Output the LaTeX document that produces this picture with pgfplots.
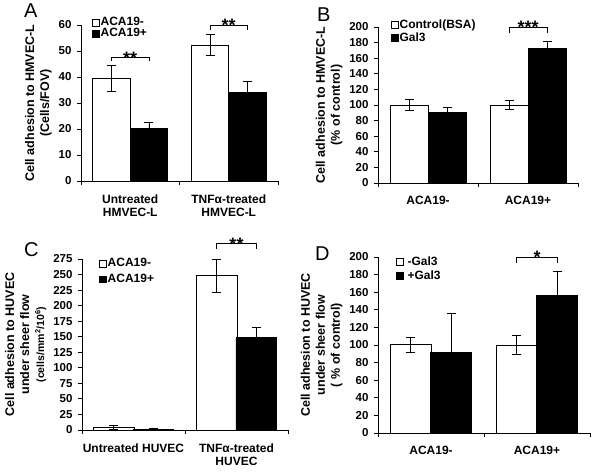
\documentclass[border=0pt]{standalone}
\usepackage{fontspec}
\setmainfont{Liberation Sans}
\usepackage{pgfplots}
\pgfplotsset{compat=1.18}
\tikzset{
  sigline/.style={line width=0.9pt, black},
  stars/.style={font=\bfseries\fontsize{18}{18}\selectfont, anchor=base, yshift=-7pt, inner sep=0pt},
  plabel/.style={anchor=north west, inner sep=0pt, font=\fontsize{20}{20}\selectfont},
}
\pgfplotsset{
  panel/.style={
    scale only axis, clip=false,
    axis x line=bottom, axis y line=left,
    axis line style={-, line width=0.9pt, black},
    every tick/.style={black, line width=0.9pt},
    tick align=outside, major tick length=4pt,
    xmin=0, xmax=2, xtick={0,1,2}, xticklabels={},
    ymin=0,
    ybar, bar width=0.38,
    /pgf/number format/assume math mode=true,
    tick label style={font=\bfseries\fontsize{11.5}{13}\selectfont},
    yticklabel style={xshift=-2pt},
    extra x ticks={0.5,1.5},
    extra x tick style={major tick length=0pt, tick label style={align=center, font=\bfseries\fontsize{12}{13.5}\selectfont, yshift=-10pt}},
    ylabel style={align=center, font=\bfseries\fontsize{12.5}{15}\selectfont},
    legend style={draw=none, fill=none, inner sep=0pt, anchor=north west,
      font=\bfseries\fontsize{12}{13}\selectfont, legend cell align=left,
      nodes={inner sep=1pt}},
    legend image code/.code={\draw[#1, line width=0.6pt] (0pt,-3.4pt) rectangle (6.8pt,3.4pt);},
  },
  wbar/.style={fill=white, draw=black, line width=0.9pt, bar shift=-0.19},
  bbar/.style={fill=black, draw=black, line width=0.9pt, bar shift=0.19},
  eb/.style={error bars/.cd, y dir=#1, y explicit,
    error bar style={line width=0.9pt, black},
    error mark options={rotate=90, mark size=4.5pt, line width=0.9pt, black}},
}
\begin{document}
\begin{tikzpicture}
\path[use as bounding box] (0pt,0pt) rectangle (601pt,473pt);
% ---------------- A ----------------
\begin{axis}[panel, at={(81pt,292pt)}, anchor=south west, width=197pt, height=156pt,
  ymax=60, ytick={0,10,...,60},
  ylabel={Cell adhesion to HMVEC-L\\(Cells/FOV)},
  extra x tick labels={{Untreated\\HMVEC-L},{TNFα-treated\\HMVEC-L}},
  legend style={at={(axis description cs:0.056,1.055)}, row sep=-1pt}]
\addplot[wbar, eb=both] coordinates {(0.5,39.5) +- (0,5) (1.5,52.3) +- (0,4)};
\addplot[bbar, eb=plus] coordinates {(0.5,20.2) +- (0,2.4) (1.5,34.2) +- (0,4)};
\legend{ACA19-,ACA19+}
\draw[sigline] (axis cs:0.31,46.3) -- (axis cs:0.31,47.6) -- (axis cs:0.69,47.6) -- (axis cs:0.69,46.3);
\node[stars] at (axis cs:0.5,47.6) {**};
\draw[sigline] (axis cs:1.31,58) -- (axis cs:1.31,60) -- (axis cs:1.69,60) -- (axis cs:1.69,58);
\node[stars] at (axis cs:1.5,60) {**};
\end{axis}
% ---------------- B ----------------
\begin{axis}[panel, at={(378pt,290pt)}, anchor=south west, width=200pt, height=156pt,
  ymax=200, ytick={0,20,...,200},
  ylabel={Cell adhesion to HMVEC-L\\(\% of control)},
  extra x tick labels={ACA19-,ACA19+},
  legend style={at={(axis description cs:0.065,1.055)}, row sep=1pt}]
\addplot[wbar, eb=both] coordinates {(0.5,100) +- (0,6.5) (1.5,100) +- (0,6)};
\addplot[bbar, eb=plus] coordinates {(0.5,90.6) +- (0,6) (1.5,173) +- (0,8)};
\legend{Control(BSA),Gal3}
\draw[sigline] (axis cs:1.31,192) -- (axis cs:1.31,200) -- (axis cs:1.69,200) -- (axis cs:1.69,192);
\node[stars] at (axis cs:1.5,200) {***};
\end{axis}
% ---------------- C ----------------
\begin{axis}[panel, at={(82pt,43pt)}, anchor=south west, width=206pt, height=171pt,
  ymax=275, ytick={0,25,...,275}, bar width=0.39,
  ylabel={Cell adhesion to HUVEC\\under sheer flow\\{\fontsize{10.5}{12}\selectfont(cells/mm\textsuperscript{2}/10\textsuperscript{6})}},
  extra x tick labels={{Untreated HUVEC},{TNFα-treated\\HUVEC}},
  legend style={at={(axis description cs:0.083,1.01)}, row sep=4pt}]
\addplot[wbar, eb=both] coordinates {(0.5,4.5) +- (0,3) (1.5,248) +- (0,27)};
\addplot[bbar, eb=plus] coordinates {(0.5,1.6) +- (0,1) (1.5,148.5) +- (0,16)};
\legend{ACA19-,ACA19+}
\draw[sigline] (axis cs:1.31,291) -- (axis cs:1.31,300) -- (axis cs:1.69,300) -- (axis cs:1.69,291);
\node[stars] at (axis cs:1.5,300) {**};
\end{axis}
% ---------------- D ----------------
\begin{axis}[panel, at={(378pt,40pt)}, anchor=south west, width=212pt, height=176pt,
  ymax=200, ytick={0,20,...,200}, bar width=0.39,
  ylabel={Cell adhesion to HUVEC\\under sheer flow\\( \% of control)},
  extra x tick labels={ACA19-,ACA19+},
  legend style={at={(axis description cs:0.085,1.01)}, row sep=2pt}]
\addplot[wbar, eb=both] coordinates {(0.5,100.3) +- (0,8.7) (1.5,100) +- (0,11)};
\addplot[bbar, eb=plus] coordinates {(0.5,91.7) +- (0,44) (1.5,155.8) +- (0,28)};
\legend{\hspace{3pt}-Gal3,\hspace{3pt}+Gal3}
\draw[sigline] (axis cs:1.31,193) -- (axis cs:1.31,200) -- (axis cs:1.69,200) -- (axis cs:1.69,193);
\node[stars] at (axis cs:1.5,200) {*};
\end{axis}
% panel letters
\node[plabel] at (24pt,469pt) {A};
\node[plabel] at (317pt,465pt) {B};
\node[plabel] at (24pt,231pt) {C};
\node[plabel] at (315pt,226pt) {D};
\end{tikzpicture}
\end{document}
